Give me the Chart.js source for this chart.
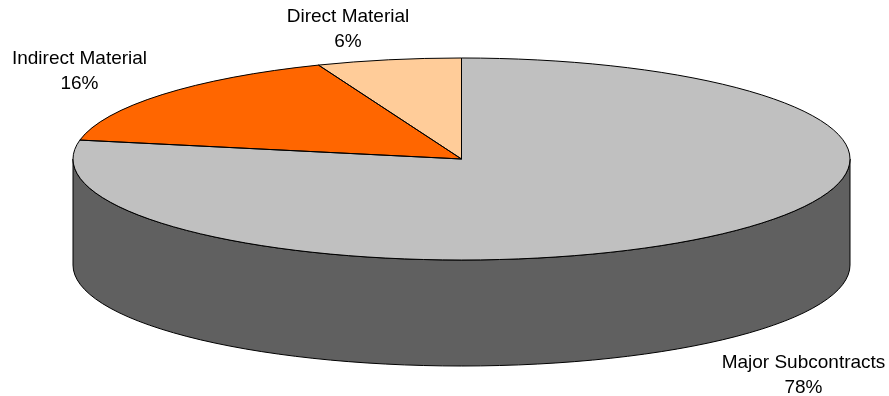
<!DOCTYPE html>
<html>
<head>
<meta charset="utf-8">
<style>
  html, body { margin: 0; padding: 0; background: #fff; }
  #wrap { width: 889px; height: 396px; position: relative; }
</style>
<script src="https://cdn.jsdelivr.net/npm/chart.js@4"></script>
</head>
<body>
<div id="wrap"><canvas id="pie" width="889" height="396"></canvas></div>
<script>
const categories = ['Major Subcontracts', 'Indirect Material', 'Direct Material'];
const shares = [78, 16, 6];
const sliceColors = ['#C0C0C0', '#FF6600', '#FFCC99'];

const RADIUS_X = 388.5;
const TILT = 101 / 388.5; // vertical squash of the disc
const DEPTH = 106;        // height of the cylinder wall
const WALL_COLOR = '#606060';
const LABEL_SPOTS = [[803.5, 363], [79.5, 59], [348, 17]];

// Traces one slice in disc coordinates, squashed onto the tilted plane.
function tracePath(ctx, arc) {
  ctx.save();
  ctx.translate(arc.x, arc.y);
  ctx.scale(1, TILT);
  ctx.beginPath();
  ctx.moveTo(0, 0);
  ctx.arc(0, 0, arc.outerRadius, arc.startAngle, arc.endAngle);
  ctx.closePath();
  ctx.restore();
}

const tiltedPie = {
  id: 'tiltedPie',
  // Cylinder wall, below the top face
  beforeDatasetsDraw(chart) {
    const arc = chart.getDatasetMeta(0).data[0];
    const ctx = chart.ctx;
    const rx = arc.outerRadius, ry = rx * TILT;
    ctx.save();
    ctx.beginPath();
    ctx.ellipse(arc.x, arc.y, rx, ry, 0, 0, Math.PI);
    ctx.lineTo(arc.x - rx, arc.y + DEPTH);
    ctx.ellipse(arc.x, arc.y + DEPTH, rx, ry, 0, Math.PI, 0, true);
    ctx.closePath();
    ctx.fillStyle = WALL_COLOR;
    ctx.fill();
    ctx.strokeStyle = '#000';
    ctx.lineWidth = 1;
    ctx.stroke();
    ctx.restore();
  },
  // Squash the library's arcs for the duration of the dataset draw
  beforeDatasetDraw(chart) {
    const arc = chart.getDatasetMeta(0).data[0];
    const ctx = chart.ctx;
    ctx.save();
    ctx.translate(arc.x, arc.y);
    ctx.scale(1, TILT);
    ctx.translate(-arc.x, -arc.y);
  },
  afterDatasetDraw(chart) {
    chart.ctx.restore();
  },
  // Even-width outlines and the category labels
  afterDatasetsDraw(chart) {
    const ctx = chart.ctx;
    ctx.save();
    ctx.strokeStyle = '#000';
    ctx.lineWidth = 1;
    ctx.lineJoin = 'round';
    chart.getDatasetMeta(0).data.forEach(arc => {
      tracePath(ctx, arc);
      ctx.stroke();
    });
    ctx.fillStyle = '#000';
    ctx.font = '19px "Liberation Sans", Arial, sans-serif';
    ctx.textAlign = 'center';
    ctx.textBaseline = 'middle';
    categories.forEach((name, i) => {
      const [x, y] = LABEL_SPOTS[i];
      ctx.fillText(name, x, y);
      ctx.fillText(shares[i] + '%', x, y + 24.5);
    });
    ctx.restore();
  }
};

new Chart(document.getElementById('pie'), {
  type: 'pie',
  data: {
    labels: categories,
    datasets: [{
      data: shares,
      backgroundColor: sliceColors,
      borderWidth: 0,
      radius: RADIUS_X
    }]
  },
  options: {
    responsive: false,
    animation: false,
    layout: { padding: { left: 34, bottom: 78 } },
    plugins: { legend: { display: false }, tooltip: { enabled: false } },
    events: []
  },
  plugins: [tiltedPie]
});
</script>
</body>
</html>
